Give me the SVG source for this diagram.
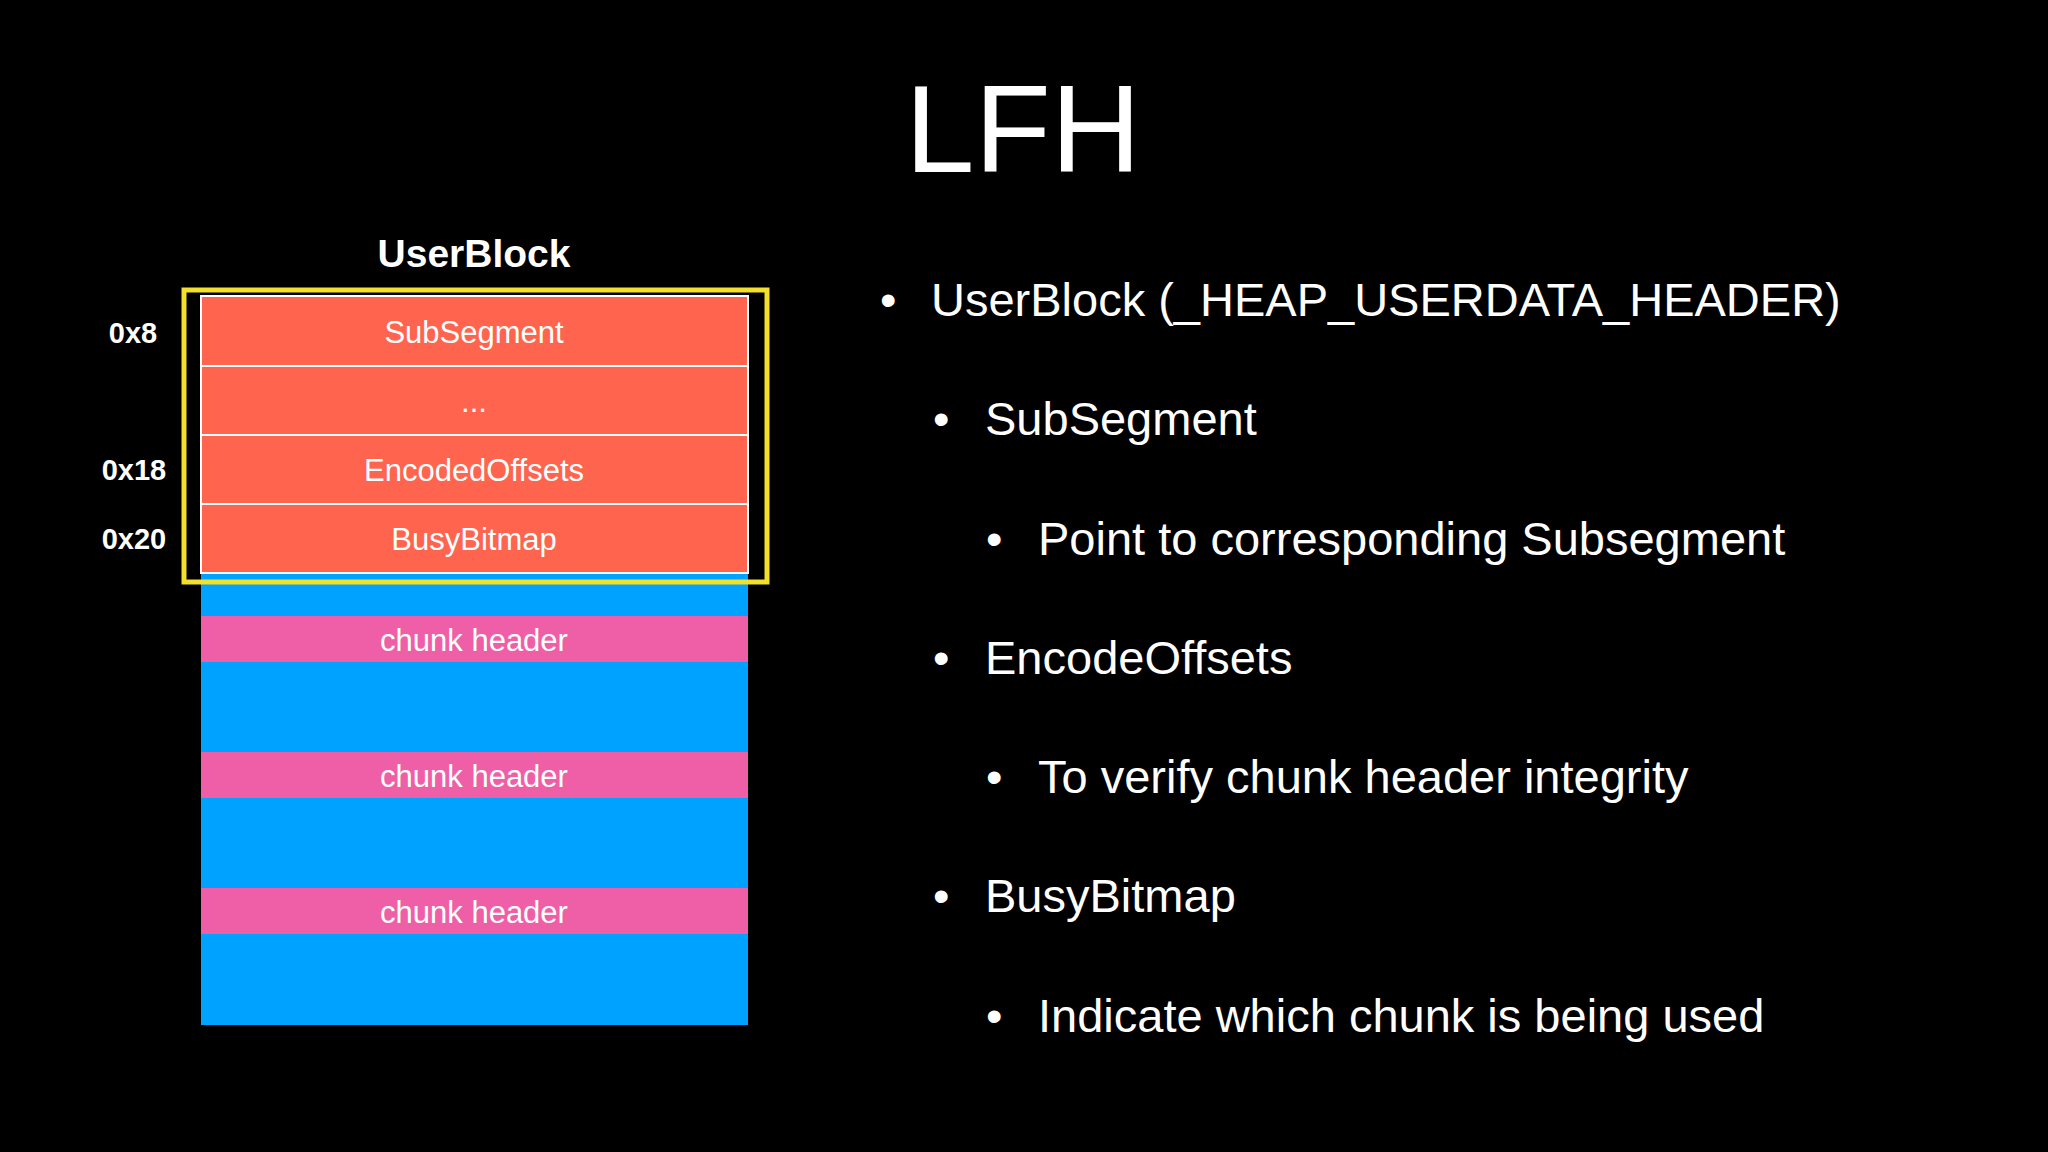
<svg xmlns="http://www.w3.org/2000/svg" width="2048" height="1152" viewBox="0 0 2048 1152">
<style>
.t{font-family:"Helvetica Neue","Liberation Sans",Arial,sans-serif;fill:#fff}
.c{font-size:31px;text-anchor:middle}
.b{font-size:47px}
.o{font-size:29px;font-weight:bold;text-anchor:middle}
.r{fill:#fe644e;stroke:#fff;stroke-width:2}
.p{fill:#ef5fa7}
</style>
<rect width="2048" height="1152" fill="#000"/>
<text class="t" x="1023" y="172" font-size="125" text-anchor="middle">LFH</text>
<g id="userblock">
<text class="t" x="474" y="267" font-size="39" font-weight="bold" text-anchor="middle">UserBlock</text>
<rect x="201" y="573" width="547" height="452" fill="#00a2ff"/>
<rect class="p" x="201" y="616" width="547" height="46"/>
<rect class="p" x="201" y="752" width="547" height="46"/>
<rect class="p" x="201" y="888" width="547" height="46"/>
<text class="t c" x="474" y="651">chunk header</text>
<text class="t c" x="474" y="787">chunk header</text>
<text class="t c" x="474" y="923">chunk header</text>
<rect class="r" x="201" y="296" width="547" height="70"/>
<rect class="r" x="201" y="366" width="547" height="69"/>
<rect class="r" x="201" y="435" width="547" height="69"/>
<rect class="r" x="201" y="504" width="547" height="69"/>
<text class="t c" x="474" y="343">SubSegment</text>
<text class="t c" x="474" y="412">...</text>
<text class="t c" x="474" y="481">EncodedOffsets</text>
<text class="t c" x="474" y="550">BusyBitmap</text>
<rect x="184" y="290" width="583" height="292" fill="none" stroke="#f2e02a" stroke-width="5"/>
<text class="t o" x="133" y="343">0x8</text>
<text class="t o" x="134" y="480">0x18</text>
<text class="t o" x="134" y="549">0x20</text>
</g>
<g id="bullets">
<text class="t b" x="880" y="316">•</text><text class="t b" x="931" y="316">UserBlock (_HEAP_USERDATA_HEADER)</text>
<text class="t b" x="933" y="435">•</text><text class="t b" x="985" y="435">SubSegment</text>
<text class="t b" x="986" y="555">•</text><text class="t b" x="1038" y="555">Point to corresponding Subsegment</text>
<text class="t b" x="933" y="674">•</text><text class="t b" x="985" y="674">EncodeOffsets</text>
<text class="t b" x="986" y="793">•</text><text class="t b" x="1038" y="793">To verify chunk header integrity</text>
<text class="t b" x="933" y="912">•</text><text class="t b" x="985" y="912">BusyBitmap</text>
<text class="t b" x="986" y="1032">•</text><text class="t b" x="1038" y="1032">Indicate which chunk is being used</text>
</g>
</svg>
